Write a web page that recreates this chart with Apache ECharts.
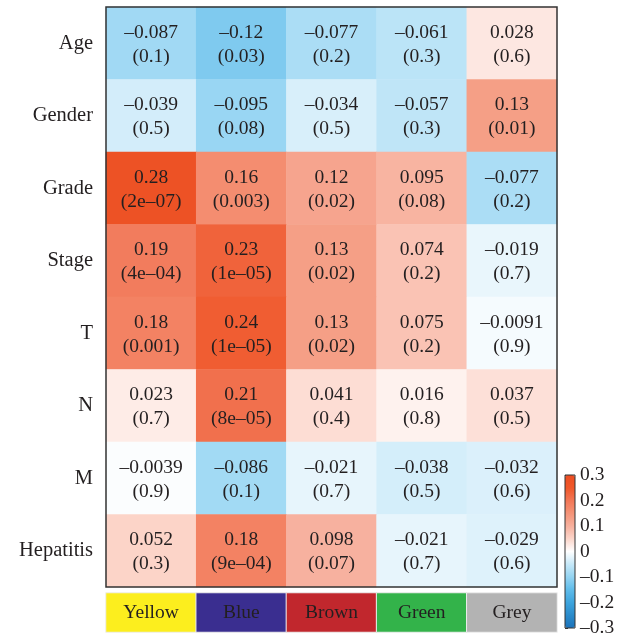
<!DOCTYPE html>
<html><head><meta charset="utf-8">
<script src="https://cdn.jsdelivr.net/npm/echarts@6/dist/echarts.min.js"></script>
<style>html,body{margin:0;padding:0;background:#fff}#c{width:625px;height:639px}</style>
</head><body><div id="c"></div>
<script>
const modules = ['Yellow','Blue','Brown','Green','Grey'];
const moduleColors = ['#FCEE1E','#3A2E90','#C1272D','#33B34A','#B3B3B3'];
const traits = ['Age','Gender','Grade','Stage','T','N','M','Hepatitis'];
const corr = [
  [-0.087,-0.12,-0.077,-0.061,0.028],
  [-0.039,-0.095,-0.034,-0.057,0.13],
  [0.28,0.16,0.12,0.095,-0.077],
  [0.19,0.23,0.13,0.074,-0.019],
  [0.18,0.24,0.13,0.075,-0.0091],
  [0.023,0.21,0.041,0.016,0.037],
  [-0.0039,-0.086,-0.021,-0.038,-0.032],
  [0.052,0.18,0.098,-0.021,-0.029]
];
const pvals = [
  ['0.1','0.03','0.2','0.3','0.6'],
  ['0.5','0.08','0.5','0.3','0.01'],
  ['2e-07','0.003','0.02','0.08','0.2'],
  ['4e-04','1e-05','0.02','0.2','0.7'],
  ['0.001','1e-05','0.02','0.2','0.9'],
  ['0.7','8e-05','0.4','0.8','0.5'],
  ['0.9','0.1','0.7','0.5','0.6'],
  ['0.3','9e-04','0.07','0.7','0.6']
];

const dash = s => String(s).replace(/-/g,'\u2013');
const data = [];
traits.forEach((t,i)=>modules.forEach((m,j)=>{
  data.push({value:[j,i,corr[i][j]], p:pvals[i][j]});
}));
const FONT = '"Liberation Serif","DejaVu Serif",serif';
const TXT = '#231F20';

const chart = echarts.init(document.getElementById('c'));
chart.setOption({
  animation:false,
  backgroundColor:'#fff',
  grid:[
    {left:106,top:7,width:451,height:580,show:true,borderColor:'#333',borderWidth:1.5,backgroundColor:'transparent',z:10},
    {left:106,top:593,width:451,height:39},
    {left:565,top:475,width:10,height:153,show:true,borderColor:'#333',borderWidth:1,backgroundColor:'transparent',z:10}
  ],
  xAxis:[
    {gridIndex:0,type:'category',data:modules,show:false},
    {gridIndex:1,type:'category',data:modules,show:false},
    {gridIndex:2,type:'value',show:false,min:0,max:1}
  ],
  yAxis:[
    {gridIndex:0,type:'category',data:traits,inverse:true,axisLine:{show:false},axisTick:{show:false},
     axisLabel:{fontFamily:FONT,fontSize:20.5,color:TXT,margin:13,padding:[3,0,0,0]}},
    {gridIndex:1,type:'category',data:['m'],show:false},
    {gridIndex:2,type:'value',min:-0.3,max:0.3,interval:0.1,position:'right',
     axisLine:{show:false},splitLine:{show:false},
     axisTick:{show:true,length:3,inside:false,lineStyle:{color:'#333'}},
     axisLabel:{fontFamily:FONT,fontSize:19.5,color:TXT,margin:5,
       formatter:v=>{const r=Math.round(v*10)/10; return r===0?'0':dash(r.toString());}}}
  ],
  visualMap:{
    type:'continuous',min:-0.3,max:0.3,seriesIndex:0,calculable:false,
    left:550,top:460,itemWidth:10,itemHeight:153,text:null,showLabel:false,
    textStyle:{color:'transparent'},
    inRange:{color:['#1B72BA','#2A8BCB','#3DA4DD','#5FBCEA','#94D4F2','#C6E8F8','#FFFFFF',
                    '#FCD5CA','#F7B09D','#F49377','#F27656','#EF5729','#EC4E22']}
  },
  series:[
    {type:'heatmap',xAxisIndex:0,yAxisIndex:0,data:data,
     label:{show:true,fontFamily:FONT,fontSize:19.5,lineHeight:24,color:TXT,offset:[0,1.5],
       formatter:p=>dash(p.data.value[2].toString())+'\n('+dash(p.data.p)+')'}},
    {type:'heatmap',xAxisIndex:1,yAxisIndex:1,
     data:modules.map((m,j)=>({value:[j,0,j],itemStyle:{color:moduleColors[j]}})),
     itemStyle:{borderColor:'#eee',borderWidth:1},
     label:{show:true,fontFamily:FONT,fontSize:19.5,color:TXT,formatter:p=>modules[p.data.value[0]]}}
  ]
});
</script></body></html>
